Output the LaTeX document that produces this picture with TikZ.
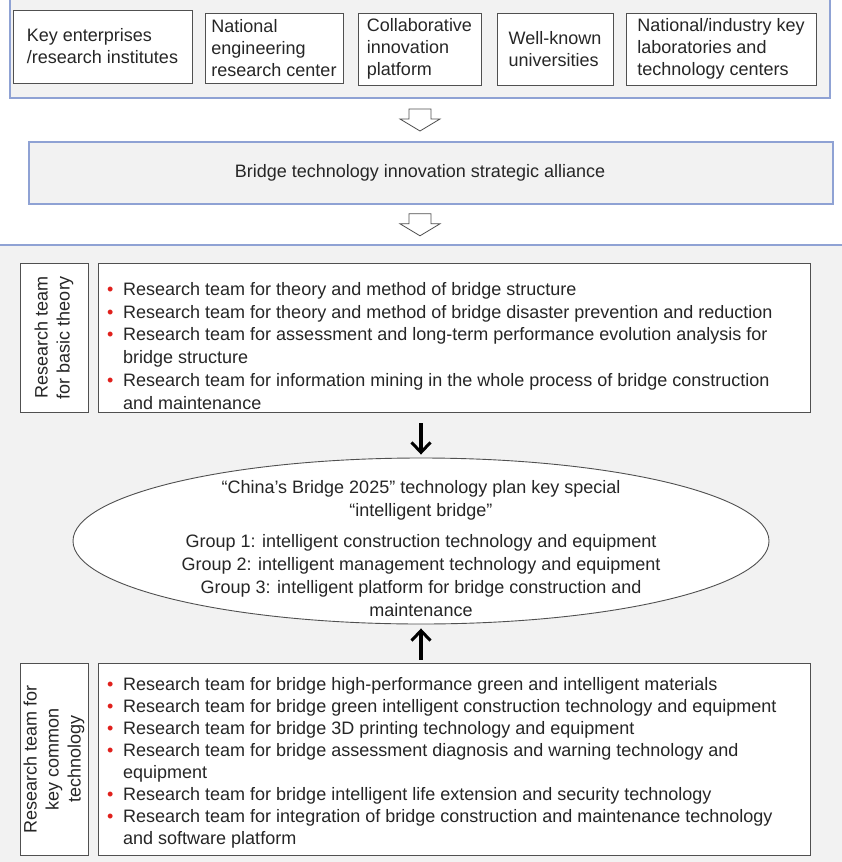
\documentclass[tikz,border=0pt]{standalone}
\usepackage{fontspec}
\setmainfont{Liberation Sans}
\usetikzlibrary{arrows.meta,shapes.geometric,calc}
\definecolor{panelgray}{HTML}{F2F2F2}
\definecolor{panelblue}{HTML}{8FA2D4}
\definecolor{boxline}{HTML}{505050}
\definecolor{inkgray}{HTML}{262626}
\definecolor{dotred}{HTML}{E0201C}
\newcommand{\bitem}{\makebox[16pt][l]{\textcolor{dotred}{\textbullet}}}
\newcommand{\bcont}{\hspace*{16pt}}

\begin{document}
\begin{tikzpicture}
[x=1pt,y=-1pt,%
  every node/.style={text=inkgray,font=\fontsize{18}{22}\selectfont},%
  panel/.style={draw=panelblue,fill=panelgray,line width=1.2pt,inner sep=0pt},%
  unit/.style={draw=boxline,fill=white,line width=0.9pt,align=left,inner sep=0pt},%
  teambox/.style={draw=boxline,fill=white,line width=0.9pt,inner sep=0pt},%
  teamlabel/.style={teambox,rotate=90,align=center},%
  listtext/.style={anchor=north west,align=left,inner sep=0pt},%
  hollow/.style={draw=boxline,fill=white,line width=0.8pt},%
  flow/.style={-{Straight Barb[length=10pt,width=19pt,line width=3pt]},
    line width=3.2pt,draw=black}]
\useasboundingbox (0,0) rectangle (841,862);
% participants
\node[panel,minimum width=820,minimum height=104] (members) at (420,46) {};
\node[unit,minimum width=179,minimum height=73] (enterprise) at (102.5,46.5)
  {Key enterprises\\/research institutes};
\node[unit,minimum width=138,minimum height=70] (engcenter) at (274,48)
  {National\\engineering\\research center};
\node[unit,minimum width=123,minimum height=72] (platform) at (419.5,49)
  {Collaborative\\innovation\\platform};
\node[unit,minimum width=116,minimum height=72] (univ) at (555,49)
  {Well-known\\universities};
\node[unit,minimum width=190,minimum height=72] (labs) at (721,49)
  {National/industry key\\laboratories and\\technology centers};
% alliance
\node[panel,minimum width=804,minimum height=62,
  label={[xshift=-11pt]center:Bridge technology innovation strategic alliance}]
  (alliance) at (431,173) {};
% lower part
\fill[panelgray] (-5,245) rectangle (846,870);
\draw[panelblue,line width=1.2pt] (-5,245) -- (846,245);
\coordinate (teams) at (420,245);
% hollow arrows
\foreach \a/\b in {members.south/alliance.north -| teams,alliance.south -| teams/teams}
  \draw[hollow,shift={($(\a)!0.5!(\b)$)}]
    (-11,-11) -- (11,-11) -- (11,-1) -- (20,-1) -- (0,11) -- (-20,-1)
    -- (-11,-1) -- cycle;
% basic theory
\node[teamlabel,minimum width=149,minimum height=68] (basiclabel) at (54,337.5)
  {Research team\\for basic theory};
\node[teambox,minimum width=712,minimum height=149] (basicbox) at (454,337.5) {};
\node[listtext,font=\fontsize{18}{22.8}\selectfont] (basiclist) at (107,282) {%
\bitem Research team for theory and method of bridge structure\\
\bitem Research team for theory and method of bridge disaster prevention and reduction\\
\bitem Research team for assessment and long-term performance evolution analysis for\\
\bcont bridge structure\\
\bitem Research team for information mining in the whole process of bridge construction\\
\bcont and maintenance};
% plan
\node[ellipse,draw=boxline,fill=white,line width=0.9pt,inner sep=0pt,
  minimum width=696,minimum height=166] (plan) at (421,541) {};
\node[align=center,font=\fontsize{18}{23}\selectfont] (plantext)
  at ([yshift=-7.5pt]plan.center)
  {``China's Bridge 2025'' technology plan key special\\
   ``intelligent bridge''\\[8pt]
   Group 1: intelligent construction technology and equipment\\
   Group 2: intelligent management technology and equipment\\
   Group 3: intelligent platform for bridge construction and\\
   maintenance};
% key common technology
\node[teamlabel,minimum width=192,minimum height=68] (commonlabel) at (54,759)
  {Research team for\\key common\\technology};
\node[teambox,minimum width=712,minimum height=192] (commonbox) at (454,759) {};
\node[listtext] (commonlist) at (107,677) {%
\bitem Research team for bridge high-performance green and intelligent materials\\
\bitem Research team for bridge green intelligent construction technology and equipment\\
\bitem Research team for bridge 3D printing technology and equipment\\
\bitem Research team for bridge assessment diagnosis and warning technology and\\
\bcont equipment\\
\bitem Research team for bridge intelligent life extension and security technology\\
\bitem Research team for integration of bridge construction and maintenance technology\\
\bcont and software platform};
% arrows into the plan
\draw[flow,shorten <=11pt,shorten >=3pt] (basicbox.south -| plan.north) -- (plan.north);
\draw[flow,shorten <=3pt,shorten >=4pt] (commonbox.north -| plan.south) -- (plan.south);
\end{tikzpicture}
\end{document}
